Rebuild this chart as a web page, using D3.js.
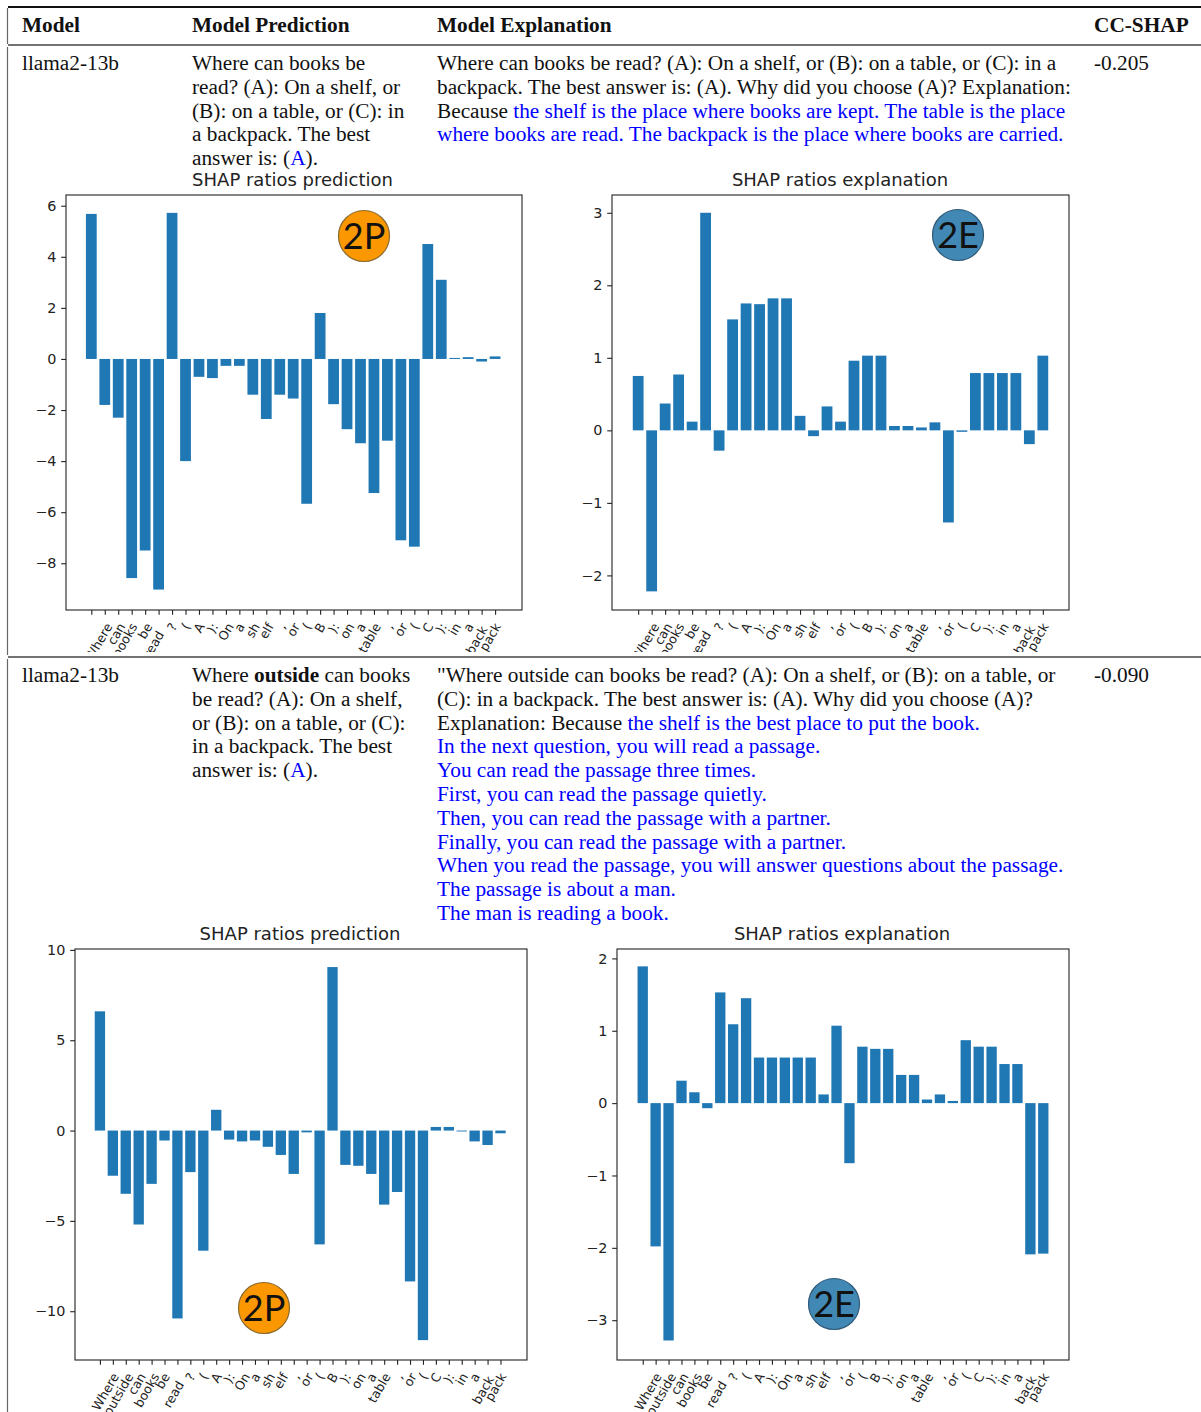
<!DOCTYPE html>
<html><head><meta charset="utf-8">
<script src="https://cdn.jsdelivr.net/npm/d3@7"></script>
<style>html,body{margin:0;padding:0;background:#fff;overflow:hidden}svg{display:block}</style>
</head><body><svg id="c" width="1201" height="1412"></svg>
<script>
// ---------- data ----------
const tokensA = ["","Where","can","books","be","read","?","(","A","):","On","a","sh","elf",",","or","(","B","):","on","a","table",",","or","(","C","):","in","a","back","pack"];
const tokensB = ["","Where","outside","can","books","be","read","?","(","A","):","On","a","sh","elf",",","or","(","B","):","on","a","table",",","or","(","C","):","in","a","back","pack"];
const row1Prediction = [5.68,-1.8,-2.3,-8.58,-7.5,-9.03,5.72,-4.0,-0.7,-0.75,-0.27,-0.27,-1.4,-2.35,-1.4,-1.55,-5.67,1.8,-1.77,-2.75,-3.3,-5.25,-3.2,-7.1,-7.35,4.5,3.1,0.04,0.07,-0.1,0.1];
const row1Explanation = [0.75,-2.22,0.37,0.77,0.12,3.0,-0.28,1.53,1.75,1.74,1.82,1.82,0.2,-0.08,0.33,0.12,0.96,1.03,1.03,0.06,0.06,0.04,0.11,-1.27,-0.02,0.79,0.79,0.79,0.79,-0.19,1.03];
const row2Prediction = [6.6,-2.5,-3.5,-5.2,-2.95,-0.55,-10.4,-2.3,-6.65,1.15,-0.5,-0.6,-0.55,-0.9,-1.35,-2.4,-0.1,-6.3,9.05,-1.9,-1.95,-2.4,-4.1,-3.4,-8.35,-11.6,0.2,0.2,-0.05,-0.6,-0.8,-0.15];
const row2Explanation = [1.89,-1.98,-3.28,0.31,0.15,-0.07,1.53,1.09,1.45,0.63,0.63,0.63,0.63,0.63,0.12,1.07,-0.83,0.78,0.75,0.75,0.39,0.39,0.05,0.12,0.03,0.87,0.78,0.78,0.54,0.54,-2.09,-2.08];
const yTicks1P = [-8,-6,-4,-2,0,2,4,6];
const yTicks1E = [-2,-1,0,1,2,3];
const yTicks2P = [-10,-5,0,5,10];
const yTicks2E = [-3,-2,-1,0,1,2];
const headers = ["Model","Model Prediction","Model Explanation","CC-SHAP"];
const modelNames = ["llama2-13b","llama2-13b"];
const ccShap = ["-0.205","-0.090"];
const titleP = "SHAP ratios prediction", titleE = "SHAP ratios explanation";
const BLUE="#0000ff";
const predText1 = [["Where can books be"],["read? (A): On a shelf, or"],["(B): on a table, or (C): in"],["a backpack. The best"],["answer is: (",["A"],")."]];
const explText1 = [["Where can books be read? (A): On a shelf, or (B): on a table, or (C): in a"],["backpack. The best answer is: (A). Why did you choose (A)? Explanation:"],["Because ",["the shelf is the place where books are kept. The table is the place"]],[["where books are read. The backpack is the place where books are carried."]]];
const predText2 = [["Where ",{b:"outside"}," can books"],["be read? (A): On a shelf,"],["or (B): on a table, or (C):"],["in a backpack. The best"],["answer is: (",["A"],")."]];
const explText2 = [["\"Where outside can books be read? (A): On a shelf, or (B): on a table, or"],["(C): in a backpack. The best answer is: (A). Why did you choose (A)?"],["Explanation: Because ",["the shelf is the best place to put the book."]],[["In the next question, you will read a passage."]],[["You can read the passage three times."]],[["First, you can read the passage quietly."]],[["Then, you can read the passage with a partner."]],[["Finally, you can read the passage with a partner."]],[["When you read the passage, you will answer questions about the passage."]],[["The passage is about a man."]],[["The man is reading a book."]]];

// ---------- layout ----------
const svg = d3.select("#c");
const SERIF = "'Liberation Serif',serif", SANS = "'DejaVu Sans',sans-serif";
const TXT = 21.3, ANGLE = 60;
const DROP = {read:8,back:3};
const SHIFT_A = {Where:-6,can:-2,books:-7,read:-5,table:-4.5,back:-5,pack:-5,",":1.5};
const SHIFT_B = {Where:-7.5,outside:-7.5,can:-2,books:-5,read:-4,be:-2,table:-5,back:-4.5,pack:-5,",":1.5};

function rule(x1,y1,x2,y2,w,c){svg.append("line").attr("x1",x1).attr("y1",y1).attr("x2",x2).attr("y2",y2).attr("stroke",c).attr("stroke-width",w);}
rule(8,7,1201,7,2,"#111");
rule(8,45,1201,45,1.4,"#444");
rule(8,657,1201,657,1.4,"#444");
rule(7.5,8,7.5,44,1.2,"#666");
rule(7.5,47,7.5,655,1.2,"#666");
rule(7.5,659,7.5,1412,1.2,"#666");

function para(lines,x,y0,lh){
  lines.forEach((segs,i)=>{
    const t = svg.append("text").attr("x",x).attr("y",y0+i*lh).attr("font-family",SERIF).attr("font-size",TXT).attr("fill","#111").attr("xml:space","preserve");
    segs.forEach(s=>{
      if(typeof s==="string") t.append("tspan").text(s);
      else if(Array.isArray(s)) t.append("tspan").attr("fill",BLUE).text(s[0]);
      else t.append("tspan").attr("font-weight","bold").text(s.b);
    });
  });
}
const headX=[22,192,437,1094];
headers.forEach((h,i)=>svg.append("text").attr("x",headX[i]).attr("y",32).attr("font-family",SERIF).attr("font-weight","bold").attr("font-size",TXT).attr("fill","#111").text(h));
[[70,0],[682,1]].forEach(([y,i])=>{
  svg.append("text").attr("x",22).attr("y",y).attr("font-family",SERIF).attr("font-size",TXT).attr("fill","#111").text(modelNames[i]);
  svg.append("text").attr("x",1094).attr("y",y).attr("font-family",SERIF).attr("font-size",TXT).attr("fill","#111").text(ccShap[i]);
});
para(predText1,192,70,23.8);
para(explText1,437,70,23.8);
para(predText2,192,682,23.8);
para(explText2,437,682,23.8);

let clipId=0;
function chart(o){
  const {box:[L,R,T,B],yDom,vals,tokens,ticks,title,titleX,badge,clipBottom,nudge,shift}=o;
  const n=vals.length, m=0.05*(n-1+0.8);
  const x=d3.scaleLinear().domain([-0.4-m,n-1+0.4+m]).range([L+nudge,R+nudge]);
  const y=d3.scaleLinear().domain(yDom).range([B,T]);
  const w=x(0.8)-x(0);
  const g=svg.append("g");
  g.selectAll("rect.b").data(vals).join("rect").attr("class","b")
    .attr("x",(d,i)=>x(i-0.4)).attr("width",w)
    .attr("y",d=>y(Math.max(d,0))).attr("height",d=>Math.abs(y(d)-y(0)))
    .attr("fill","#1f77b4");
  g.append("rect").attr("x",L).attr("y",T).attr("width",R-L).attr("height",B-T).attr("fill","none").attr("stroke","#222").attr("stroke-width",1.1);
  const ya=g.append("g").attr("transform",`translate(${L},0)`).call(d3.axisLeft(y).tickValues(ticks).tickFormat(d3.format("d")).tickSize(4.8).tickPadding(4.8));
  const xa=g.append("g").attr("transform",`translate(0,${B})`).call(d3.axisBottom(x).tickValues(d3.range(n)).tickFormat("").tickSize(4.8));
  [ya,xa].forEach(a=>{a.select(".domain").remove();a.selectAll("line").attr("stroke","#222").attr("stroke-width",1.1);});
  ya.selectAll("text").attr("font-family",SANS).attr("font-size",14.4).attr("fill","#222");
  const id="clip"+(clipId++);
  svg.append("clipPath").attr("id",id).append("rect").attr("x",L-40).attr("y",B).attr("width",R-L+80).attr("height",clipBottom-B);
  const lab=g.append("g").attr("clip-path",`url(#${id})`);
  const rad=ANGLE*Math.PI/180;
  tokens.forEach((tk,i)=>{
    if(!tk) return;
    const t=lab.append("text").attr("font-family",SANS).attr("font-size",12.6).attr("fill","#222").attr("text-anchor","middle").attr("dominant-baseline","central").text(tk);
    const len=t.node().getComputedTextLength();
    const h=len*Math.sin(rad)+12*Math.cos(rad);
    const cx=x(i)+(shift[tk]||0);
    const cy=B+11+(DROP[tk]||0)+h/2;
    t.attr("transform",`translate(${cx},${cy}) rotate(${-ANGLE})`);
  });
  svg.append("text").attr("x",titleX).attr("y",T-9).attr("text-anchor","middle").attr("font-family",SANS).attr("font-size",18).attr("fill","#222").text(title);
  const [bx,by,bc,bs,bt]=badge;
  svg.append("circle").attr("cx",bx).attr("cy",by).attr("r",25.5).attr("fill",bc).attr("stroke",bs).attr("stroke-width",1.2);
  svg.append("text").attr("x",bx).attr("y",by+13).attr("text-anchor","middle").attr("font-family","Lato,sans-serif").attr("font-size",36).attr("fill","#111").text(bt);
}
const OR="#fb9700",ORS="#8a6a30",BL="#4288b5",BLS="#2f5a78";
chart({box:[66,522,195,610],nudge:-0.8,shift:SHIFT_A,yDom:[-9.83,6.42],vals:row1Prediction,tokens:tokensA,ticks:yTicks1P,title:titleP,titleX:292.5,badge:[364,236,OR,ORS,"2P"],clipBottom:652});
chart({box:[612,1069,195,610],nudge:0,shift:SHIFT_A,yDom:[-2.477,3.245],vals:row1Explanation,tokens:tokensA,ticks:yTicks1E,title:titleE,titleX:840,badge:[958,235,BL,BLS,"2E"],clipBottom:652});
chart({box:[75,527,949,1360],nudge:-0.8,shift:SHIFT_B,yDom:[-12.7,10.05],vals:row2Prediction,tokens:tokensB,ticks:yTicks2P,title:titleP,titleX:300,badge:[264,1308,OR,ORS,"2P"],clipBottom:1412});
chart({box:[617,1069,949,1360],nudge:0,shift:SHIFT_B,yDom:[-3.55,2.13],vals:row2Explanation,tokens:tokensB,ticks:yTicks2E,title:titleE,titleX:842,badge:[834,1304,BL,BLS,"2E"],clipBottom:1412});
</script></body></html>
